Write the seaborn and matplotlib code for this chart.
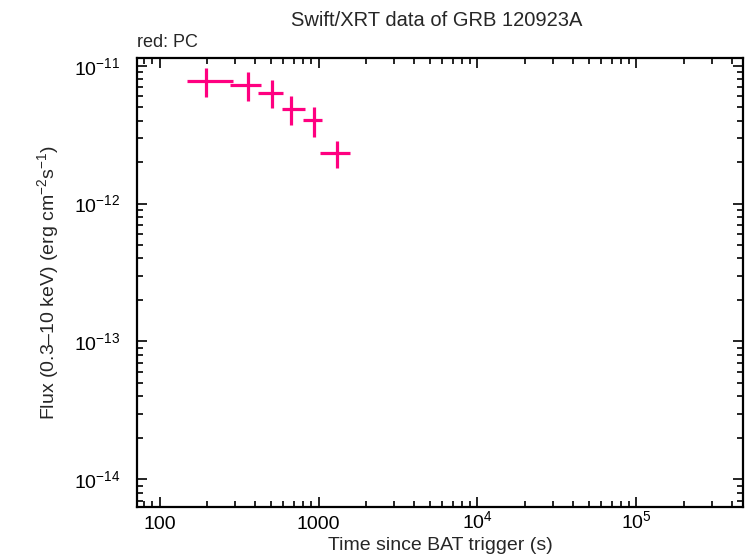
import numpy as np
import pandas as pd
import matplotlib
matplotlib.use('Agg')
import matplotlib.pyplot as plt
import matplotlib.ticker as mticker
import seaborn as sns

# PC mode light curve points
time = [195, 358, 508, 669, 930, 1304]
time_lo = [149.5, 279, 419, 585, 796, 1019]
time_hi = [291, 432, 602, 824, 1055, 1584]
flux = [7.74e-12, 7.24e-12, 6.34e-12, 4.85e-12, 4.06e-12, 2.32e-12]
flux_hi = [9.62e-12, 9.0e-12, 7.87e-12, 6.02e-12, 5.04e-12, 2.84e-12]
flux_lo = [5.89e-12, 5.57e-12, 4.9e-12, 3.69e-12, 3.02e-12, 1.80e-12]

xticks = [100, 1000, 1e4, 1e5]
xticklabels = ['100', '1000', '10$^{4}$', '10$^{5}$']
yticks = [1e-14, 1e-13, 1e-12, 1e-11]
yticklabels = ['10$^{-14}$', '10$^{-13}$', '10$^{-12}$', '10$^{-11}$']

sns.set_style('ticks')
plt.rcParams['font.family'] = ['Liberation Sans', 'DejaVu Sans']
plt.rcParams['mathtext.fontset'] = 'custom'
plt.rcParams['mathtext.rm'] = 'Liberation Sans'
plt.rcParams['mathtext.it'] = 'Liberation Sans'
plt.rcParams['mathtext.default'] = 'rm'

df = pd.DataFrame({'t': time, 'f': flux})
xerr = np.array([df['t'] - np.array(time_lo), np.array(time_hi) - df['t']])
yerr = np.array([df['f'] - np.array(flux_lo), np.array(flux_hi) - df['f']])

fig = plt.figure(figsize=(7.46, 5.58), dpi=100)
ax = fig.add_axes([0.1836, 0.0914, 0.8124, 0.8041])

ax.errorbar(df['t'], df['f'], xerr=xerr, yerr=yerr, fmt='none',
            ecolor='#ff0080', elinewidth=2.3, capsize=0)

ax.set_xscale('log')
ax.set_yscale('log')
ax.set_xlim(72.1, 4.68e5)
ax.set_ylim(6.3e-15, 1.133e-11)

ax.xaxis.set_major_locator(mticker.FixedLocator(xticks))
ax.xaxis.set_major_formatter(mticker.FixedFormatter(xticklabels))
ax.yaxis.set_major_locator(mticker.FixedLocator(yticks))
ax.yaxis.set_major_formatter(mticker.FixedFormatter(yticklabels))
ax.xaxis.set_minor_locator(mticker.LogLocator(base=10, subs=np.arange(2, 10), numticks=20))
ax.yaxis.set_minor_locator(mticker.LogLocator(base=10, subs=np.arange(2, 10), numticks=20))
ax.xaxis.set_minor_formatter(mticker.NullFormatter())
ax.yaxis.set_minor_formatter(mticker.NullFormatter())

ax.tick_params(which='both', direction='in', top=True, right=True, colors='black',
               labelsize=14, width=1.2)
ax.tick_params(which='major', length=7)
ax.tick_params(which='minor', length=4)
ax.tick_params(axis='x', which='major', pad=15.5)
ax.tick_params(axis='y', which='major', pad=12)
for lbl in ax.get_xticklabels():
    lbl.set_va('baseline')
for s in ax.spines.values():
    s.set_linewidth(1.6)
    s.set_color('black')

ax.set_xlabel('Time since BAT trigger (s)', fontsize=14, labelpad=0)
ax.xaxis.set_label_coords(0.5, -0.066)
ax.set_ylabel('Flux (0.3\u201310 keV) (erg cm$^{-2}$s$^{-1}$)', fontsize=14)
ax.yaxis.set_label_coords(-0.126, 0.5)
fig.text(0.585, 0.964, 'Swift/XRT data of GRB 120923A', ha='center', va='center', fontsize=14.5)
fig.text(0.184, 0.924, 'red: PC', ha='left', va='center', fontsize=13)

plt.savefig('out.png', dpi=100)
